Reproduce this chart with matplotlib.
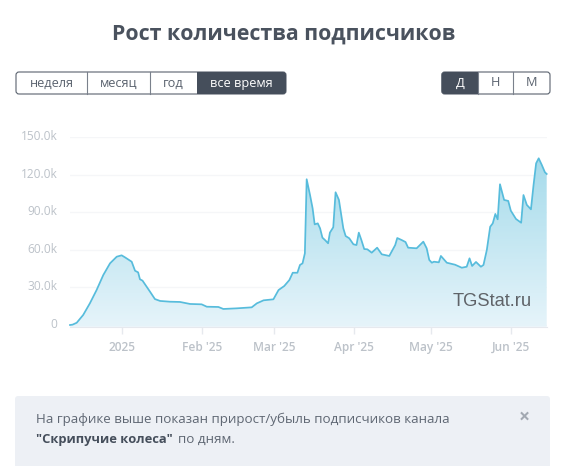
import numpy as np
import matplotlib
matplotlib.use('Agg')
import matplotlib.pyplot as plt
from matplotlib.colors import LinearSegmentedColormap
from matplotlib.patches import FancyBboxPatch, Rectangle
from matplotlib.transforms import ScaledTranslation

plt.rcParams['font.family'] = ['Open Sans', 'DejaVu Sans']

# days since 1 Jan 2025, subscribers
days = [-20, -19, -17.4, -14.9, -12.3, -9.7, -7.1, -4.5, -1.9, 0, 1.3, 3.9, 5.2, 6.4, 7.1, 8.1,
        11, 12.9, 14.9, 18.7, 22.6, 26.5, 31, 33, 37.5, 39.4, 44.6, 50.4, 52.4, 55, 58.8, 60.8, 63, 65,
        66.3, 68.1, 69.1, 70.1, 71, 71.7, 73, 74, 74.8, 76, 76.9, 77.8, 78.8, 80, 80.7, 82, 82.9, 84.2, 85.3,
        85.9, 86.8, 88.2, 89.8, 91, 91.9, 92.9, 94, 95.2, 96.9, 99, 100.8, 103.7, 106, 106.8, 108.5, 110, 111,
        114.3, 116.9, 118.2, 119.2, 120.2, 121, 122.9, 123.7, 126, 129.2, 131.8, 133.7, 134.8, 135.8, 137.3,
        139.2, 140.2, 141.5, 142.8, 143.8, 144.8, 145.7, 146.6, 148.2, 149.8, 150.8, 152.8, 154.8, 155.7, 157,
        158.6, 159.6, 160.6, 161.6, 162.8, 164, 164.7]
subscribers = [0, 300, 1800, 8000, 17300, 27900, 39900, 49200, 54500, 55600, 54000, 50500, 43300, 42000, 36500,
               35400, 26600, 20700, 19200, 18600, 18400, 16800, 16500, 14600, 14400, 12800,
               13300, 14100, 17300, 19700, 20500, 27900, 31100, 35900, 41700, 41700, 47900, 49200, 57200, 116300,
               103700, 93100, 80300, 81100, 77100, 69700, 67800, 65200, 73700, 78000, 105900, 99800, 85100, 77100,
               71000, 69200, 64400, 63800, 73700, 67800, 60600, 60400, 57700, 61700, 56400, 55100, 63800, 69400,
               67800, 66200, 61700, 61200, 66500, 61200, 51900, 49700, 50500, 50000, 55100, 49700, 48100, 45700,
               46500, 53200, 47100, 50300, 46500, 47900, 59900, 78400, 81100, 88600, 84300, 112300, 99800, 99000,
               91200, 84600, 81600, 103700, 95800, 92300, 111700, 129000, 133000, 127700, 121900, 120500]

x_ticks = [0, 31, 59, 90, 120, 151]
x_labels = ['2025', "Feb '25", "Mar '25", "Apr '25", "May '25", "Jun '25"]
y_ticks = [0, 30000, 60000, 90000, 120000, 150000]
y_labels = ['0', '30.0k', '60.0k', '90.0k', '120.0k', '150.0k']

range_buttons = ['неделя', 'месяц', 'год', 'все время']
range_edges = [16, 87.3, 150.3, 196.7, 286]
step_buttons = ['Д', 'Н', 'М']
step_edges = [441.7, 478, 513, 550]

W, H = 567, 466
DARK = '#454e5b'
fig = plt.figure(figsize=(W / 100, H / 100), dpi=100, facecolor='white')

# overlay in pixel coords for the page furniture
page = fig.add_axes([0, 0, 1, 1], zorder=0)
page.set_xlim(0, W)
page.set_ylim(H, 0)
page.axis('off')

page.text(283.5, 34.5, 'Рост количества подписчиков', ha='center', va='center',
          fontsize=15.4, fontweight='bold', color='#4a525e')


def button_group(labels, edges, active):
    top, bottom = 72, 94
    box = FancyBboxPatch((edges[0], top), edges[-1] - edges[0], bottom - top,
                         boxstyle='round,pad=0,rounding_size=3', fc='white', ec='#5a626e', lw=0.8)
    page.add_patch(box)
    for i, lab in enumerate(labels):
        if i == active:
            r = Rectangle((edges[i], top), edges[i + 1] - edges[i], bottom - top, fc=DARK, ec='none')
            page.add_patch(r)
            r.set_clip_path(box)
        elif i > 0:
            page.plot([edges[i], edges[i]], [top, bottom], color='#7a818c', lw=0.8)
        page.text((edges[i] + edges[i + 1]) / 2, 83, lab, ha='center', va='center', fontsize=9.2,
                  color='white' if i == active else '#5a626e')


button_group(range_buttons, range_edges, 3)
button_group(step_buttons, step_edges, 0)

# info panel at the bottom
page.add_patch(FancyBboxPatch((15, 396), 535, 80, boxstyle='round,pad=0,rounding_size=3', fc='#edf0f5', ec='none'))
page.text(36, 419, 'На графике выше показан прирост/убыль подписчиков канала', va='center',
          fontsize=9.6, color='#5f6773')
page.text(36, 439.5, '"Скрипучие колеса"', va='center', fontsize=9.3, fontweight='bold', color='#454e5b')
page.text(178, 439.5, 'по дням.', va='center', fontsize=9.6, color='#5f6773')
page.text(524, 418, '×', ha='center', va='center', fontsize=14, fontweight='bold', color='#a3a9b2')

# chart
left, right, top, bottom = 70, 546.7, 137, 326.7
ax = fig.add_axes([left / W, 1 - bottom / H, (right - left) / W, (bottom - top) / H], zorder=1)
ax.patch.set_alpha(0)
ymin, ymax = -1350, 150000
xmin, xmax = -20, 164.7

cmap = LinearSegmentedColormap.from_list('fade', ['#e6f4fa', '#a5dbeb'])
grad = ax.imshow(np.linspace(1, 0, 256).reshape(-1, 1), cmap=cmap, aspect='auto',
                 extent=[xmin, xmax, ymin, 133000], zorder=2)
poly = ax.fill_between(days, subscribers, ymin, color='none', lw=0)
grad.set_clip_path(poly.get_paths()[0], ax.transData)
ax.plot(days, subscribers, color='#57bcdc', lw=1.25, zorder=3, solid_joinstyle='round', clip_on=False)

ax.set_xlim(xmin, xmax)
ax.set_ylim(ymin, ymax)
ax.set_xticks(x_ticks, x_labels)
ax.set_yticks(y_ticks, y_labels)
ax.grid(axis='y', color='#f5f6f8', lw=1, zorder=0)
ax.set_axisbelow(True)
for s in ['top', 'left', 'right']:
    ax.spines[s].set_visible(False)
ax.spines['bottom'].set_color('#e6e9ee')
ax.tick_params(axis='x', length=5, width=1, color='#e6e9ee', labelcolor='#bcc2c9', labelsize=8.6, pad=5)
ax.tick_params(axis='y', length=0, labelcolor='#bcc2c9', labelsize=8.6, pad=9)
for lab in ax.get_xticklabels():
    lab.set_fontweight('semibold')
# y labels sit a little above their grid line
for lab in ax.get_yticklabels():
    lab.set_transform(lab.get_transform() + ScaledTranslation(0, 2 / 100, fig.dpi_scale_trans))

ax.text(492, 302, 'TGStat.ru', transform=page.transData, ha='center', va='center', family='Liberation Sans',
        fontsize=13.2, color='#5f6368', zorder=5)

fig.savefig('out.png', dpi=100)
